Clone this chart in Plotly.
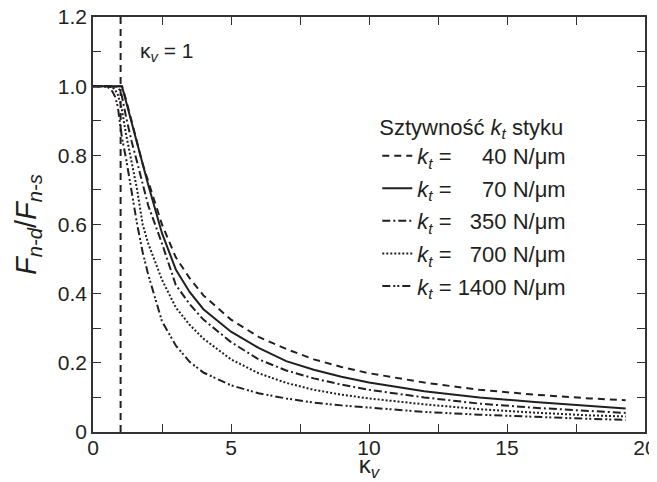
import plotly.graph_objects as go

kappa = [0, 0.5, 0.7, 0.8, 0.9, 1.0, 1.05, 1.2, 1.4, 1.6, 1.8, 2.0, 2.5, 3, 3.5, 4, 5, 6, 7, 8, 9, 10, 12, 14, 16, 18, 19.3]

f_40 = [1.0, 1.0, 1.0, 1.0, 1.0, 1.0, 1.0, 0.96, 0.9, 0.84, 0.775, 0.725, 0.6, 0.505, 0.445, 0.395, 0.325, 0.275, 0.24, 0.21, 0.188, 0.17, 0.143, 0.122, 0.108, 0.097, 0.092]
f_70 = [1.0, 1.0, 1.0, 1.0, 1.0, 1.0, 1.0, 0.955, 0.895, 0.835, 0.772, 0.715, 0.575, 0.47, 0.405, 0.355, 0.29, 0.243, 0.205, 0.18, 0.16, 0.143, 0.118, 0.1, 0.087, 0.075, 0.068]
f_350 = [1.0, 1.0, 1.0, 1.0, 0.998, 0.985, 0.97, 0.91, 0.84, 0.78, 0.715, 0.655, 0.545, 0.425, 0.37, 0.325, 0.26, 0.21, 0.178, 0.155, 0.137, 0.122, 0.1, 0.082, 0.07, 0.06, 0.055]
f_700 = [1.0, 1.0, 0.997, 0.99, 0.975, 0.95, 0.93, 0.86, 0.78, 0.7, 0.6, 0.545, 0.44, 0.36, 0.31, 0.27, 0.21, 0.17, 0.142, 0.122, 0.108, 0.097, 0.08, 0.066, 0.056, 0.048, 0.045]
f_1400 = [1.0, 1.0, 0.985, 0.97, 0.94, 0.87, 0.85, 0.79, 0.69, 0.6, 0.52, 0.455, 0.32, 0.25, 0.203, 0.172, 0.135, 0.112, 0.097, 0.085, 0.077, 0.07, 0.058, 0.05, 0.043, 0.038, 0.035]

stiffness = ["40", "70", "350", "700", "1400"]
series = [f_40, f_70, f_350, f_700, f_1400]
dashes = ["7px,5px", "solid", "8px,3px,2px,3px", "2px,2px", "8px,3px,2px,2px,2px,3px"]

marker_x = [1, 1]
marker_y = [0, 1.2]

x_tickvals = [0, 5, 10, 15, 20]
x_ticktext = ["0", "5", "10", "15", "20"]
y_tickvals = [0, 0.2, 0.4, 0.6, 0.8, 1.0, 1.2]
y_ticktext = ["0", "0.2", "0.4", "0.6", "0.8", "1.0", "1.2"]

FONT = "Liberation Sans, Arial, sans-serif"
INK = "#231f20"
FS = 21
LFS = 22

fig = go.Figure()

pad = {"40": "\u2007\u2007", "70": "\u2007\u2007", "350": "\u2007", "700": "\u2007", "1400": ""}
for i, (kt, ys, d) in enumerate(zip(stiffness, series, dashes)):
    fig.add_trace(go.Scatter(
        x=kappa, y=ys, mode="lines",
        line=dict(color=INK, width=2, dash=d),
        name=f"<i>k<sub>t</sub></i> = {pad[kt]}{kt} N/\u03bcm",
        legendgroup=f"g{i}",
    ))

fig.add_trace(go.Scatter(
    x=marker_x, y=marker_y, mode="lines",
    line=dict(color=INK, width=2, dash="7px,5px"),
    showlegend=False, hoverinfo="skip",
))

fig.add_annotation(
    x=1.62, y=1.1, xref="x", yref="y", xanchor="left", yanchor="middle",
    text="\u03ba<sub><i>v</i></sub> = 1", showarrow=False,
    font=dict(family=FONT, size=FS, color=INK),
)

axis_common = dict(
    showline=True, linecolor="#333333", linewidth=1.5, mirror="allticks",
    ticks="inside", ticklen=8, tickwidth=1.3, tickcolor="#333333",
    showgrid=False, zeroline=False, automargin=False,
    ticklabeloverflow="allow",
    tickfont=dict(family=FONT, size=FS, color=INK),
)

fig.update_xaxes(
    range=[0, 20], tickmode="array", tickvals=x_tickvals, ticktext=x_ticktext,
    ticklabelstandoff=-4,
    minor=dict(dtick=2.5, ticks="inside", ticklen=8, tickwidth=1.3, tickcolor="#333333", showgrid=False),
    title=dict(text="\u03ba<sub><i>v</i></sub>", font=dict(family=FONT, size=24, color=INK), standoff=7),
    **axis_common,
)
fig.update_yaxes(
    range=[0, 1.2], tickmode="array", tickvals=y_tickvals, ticktext=y_ticktext,
    minor=dict(dtick=0.1, ticks="inside", ticklen=8, tickwidth=1.3, tickcolor="#333333", showgrid=False),
    title=dict(text="<i>F<sub>n-d</sub></i>/<i>F<sub>n-s</sub></i>", font=dict(family=FONT, size=29, color=INK), standoff=13),
    **axis_common,
)

# page body adds an 8px offset; size the figure to the remaining window
fig.update_layout(
    width=649, height=474,
    margin=dict(l=85, r=12, t=9, b=50),
    paper_bgcolor="white", plot_bgcolor="white",
    font=dict(family=FONT, size=FS, color=INK),
    showlegend=True,
    legend=dict(
        x=0.515, y=0.785, xanchor="left", yanchor="top",
        bgcolor="rgba(0,0,0,0)", borderwidth=0,
        title=dict(text="Sztywność <i>k<sub>t</sub></i> styku", font=dict(family=FONT, size=LFS, color=INK)),
        font=dict(family=FONT, size=LFS, color=INK),
        tracegroupgap=1, itemwidth=30,
    ),
)

fig.write_html("out.html")
